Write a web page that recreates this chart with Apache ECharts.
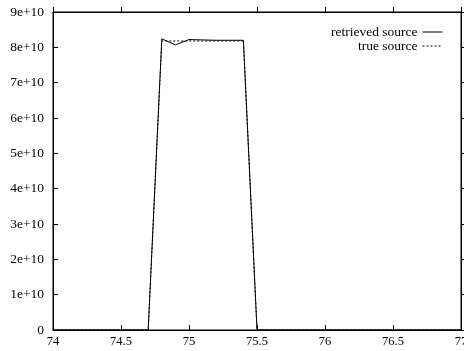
<!DOCTYPE html>
<html>
<head>
<meta charset="utf-8">
<script src="https://cdn.jsdelivr.net/npm/echarts@6/dist/echarts.min.js"></script>
<style>
  html, body { margin: 0; padding: 0; background: #fff; }
  #chart { width: 464px; height: 351px; }
</style>
</head>
<body>
<div id="chart"></div>
<script>
// 数据：横坐标 + 两条曲线
const retrievedX = [74, 74.7, 74.8, 74.9, 75.0, 75.1, 75.2, 75.3, 75.4, 75.5, 77];
const retrievedY = [0, 0, 8.24e10, 8.07e10, 8.22e10, 8.21e10, 8.2e10, 8.2e10, 8.2e10, 0, 0];
const trueX = [74, 74.7, 74.8, 74.9, 75.0, 75.1, 75.2, 75.3, 75.4, 75.5, 77];
const trueY = [0, 0, 8.18e10, 8.18e10, 8.18e10, 8.18e10, 8.18e10, 8.18e10, 8.18e10, 0, 0];
const seriesNames = ['retrieved source', 'true source'];

const FONT = 'Liberation Serif';

const fmtY = (v) => {
  if (v === 0) return '0';
  return (v / 1e10).toFixed(0) + 'e+10';
};

const chart = echarts.init(document.getElementById('chart'), null, { renderer: 'canvas' });

function mkAxis(extra) {
  return Object.assign({
    show: true,
    axisLine: { show: true, onZero: false, lineStyle: { color: '#000', width: 1 } },
    axisTick: { show: true, inside: true, length: 5, lineStyle: { color: '#000', width: 1 } },
    splitLine: { show: false },
  }, extra);
}

chart.setOption({
  animation: false,
  backgroundColor: '#fff',
  textStyle: { fontFamily: FONT },
  grid: {
    left: 53, right: 3, top: 12, bottom: 21,
    outerBoundsMode: 'none',
    show: true, borderColor: '#000', borderWidth: 1,
  },
  legend: {
    orient: 'vertical',
    right: 16,
    top: 20,
    align: 'right',
    itemWidth: 20,
    itemHeight: 10,
    itemGap: 0,
    itemStyle: { opacity: 0 },
    lineStyle: { width: 1 },
    textStyle: { fontFamily: FONT, fontSize: 13.5, color: '#000' },
    data: seriesNames,
  },
  xAxis: [
    mkAxis({
      type: 'value', min: 74, max: 77, interval: 0.5, position: 'bottom',
      axisLabel: { fontFamily: FONT, fontSize: 12.5, color: '#000', margin: 5, showMaxLabel: true },
    }),
    // 顶部镜像刻度
    mkAxis({
      type: 'value', min: 74, max: 77, interval: 0.5, position: 'top',
      axisLabel: { show: false },
      axisTick: { show: true, inside: false, length: 5, lineStyle: { color: '#000', width: 1 } },
    }),
  ],
  yAxis: [
    mkAxis({
      type: 'value', min: 0, max: 9e10, interval: 1e10, position: 'left',
      axisLabel: { fontFamily: FONT, fontSize: 13.5, color: '#000', margin: 9, formatter: fmtY },
    }),
    // 右侧镜像刻度
    mkAxis({
      type: 'value', min: 0, max: 9e10, interval: 1e10, position: 'right',
      axisLabel: { show: false },
      axisTick: { show: true, inside: false, length: 5, lineStyle: { color: '#000', width: 1 } },
    }),
  ],
  series: [
    {
      name: seriesNames[0],
      type: 'line',
      showSymbol: false,
      symbol: 'none',
      lineStyle: { color: '#000', width: 1 },
      itemStyle: { color: '#000' },
      data: retrievedX.map((x, i) => [x, retrievedY[i]]),
    },
    {
      name: seriesNames[1],
      type: 'line',
      showSymbol: false,
      symbol: 'none',
      lineStyle: { color: '#000', width: 1, type: [2, 2] },
      itemStyle: { color: '#000' },
      data: trueX.map((x, i) => [x, trueY[i]]),
    },
    {
      type: 'line',
      xAxisIndex: 1,
      yAxisIndex: 1,
      data: [],
    },
  ],
});

window.addEventListener('resize', () => chart.resize());
</script>
</body>
</html>
